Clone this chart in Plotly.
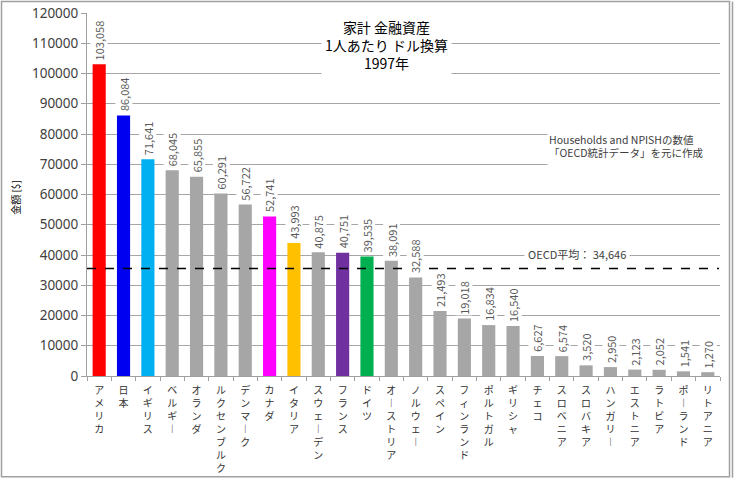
import plotly.graph_objects as go

# ---------------- data ----------------
countries = ["アメリカ", "日本", "イギリス", "ベルギー", "オランダ", "ルクセンブルク", "デンマーク",
             "カナダ", "イタリア", "スウェーデン", "フランス", "ドイツ", "オーストリア", "ノルウェー",
             "スペイン", "フィンランド", "ポルトガル", "ギリシャ", "チェコ", "スロベニア", "スロバキア",
             "ハンガリー", "エストニア", "ラトビア", "ポーランド", "リトアニア"]
values = [103058, 86084, 71641, 68045, 65855, 60291, 56722, 52741, 43993, 40875, 40751, 39535,
          38091, 32588, 21493, 19018, 16834, 16540, 6627, 6574, 3520, 2950, 2123, 2052, 1541, 1270]
bar_colors = ["#FF0000", "#0000F0", "#00B0F0", "#A6A6A6", "#A6A6A6", "#A6A6A6", "#A6A6A6",
              "#FF00FF", "#FFC000", "#A6A6A6", "#7030A0", "#00B050", "#A6A6A6", "#A6A6A6",
              "#A6A6A6", "#A6A6A6", "#A6A6A6", "#A6A6A6", "#A6A6A6", "#A6A6A6", "#A6A6A6",
              "#A6A6A6", "#A6A6A6", "#A6A6A6", "#A6A6A6", "#A6A6A6"]
y_tickvals = [0, 10000, 20000, 30000, 40000, 50000, 60000, 70000, 80000, 90000, 100000, 110000, 120000]
oecd_line_value = 35500
oecd_label = "OECD平均： 34,646"
title_text = "家計 金融資産<br>1人あたり ドル換算<br>1997年"
note_text = "Households and NPISHの数値<br>「OECD統計データ」を元に作成"
y_title = "金額 [$]"

# ---------------- layout geometry ----------------
W, H = 735, 481
L, R, T, B = 87, 15, 13, 104.5
PW, PH = W - L - R, H - T - B


def px(xp):
    return (xp - L) / PW


def py(yp):
    return (H - B - yp) / PH


FONT = "Noto Sans CJK JP, Noto Sans, sans-serif"
TICKFONT = "DejaVu Sans, Noto Sans CJK JP, sans-serif"


def vertical(s):
    return "<br>".join("︱" if c == "ー" else c for c in s)


fig = go.Figure()
fig.add_trace(go.Bar(x=countries, y=values, marker=dict(color=bar_colors, line=dict(width=0)),
                     hoverinfo="x+y"))

annotations = []
for c, v in zip(countries, values):
    annotations.append(dict(x=c, y=v, xref="x", yref="y", text=f"{v:,}",
                            textangle=-90, yanchor="bottom", xanchor="center", yshift=3,
                            showarrow=False, bgcolor="white", borderpad=0,
                            font=dict(family=FONT, size=11, color="#595959")))

annotations.append(dict(x=px(386), y=py(45), xref="paper", yref="paper", text=title_text,
                        showarrow=False, xanchor="center", yanchor="middle", bgcolor="white",
                        borderpad=3, font=dict(family=FONT, size=14, color="#000000")))
annotations.append(dict(x=px(547), y=py(146), xref="paper", yref="paper", text=note_text,
                        showarrow=False, xanchor="left", yanchor="middle", align="left",
                        bgcolor="white", width=170, height=36,
                        font=dict(family=FONT, size=10.5, color="#404040")))
annotations.append(dict(x=px(577), y=py(254), xref="paper", yref="paper", text=oecd_label,
                        showarrow=False, xanchor="center", yanchor="middle", bgcolor="white",
                        borderpad=3, font=dict(family=FONT, size=11, color="#404040")))
annotations.append(dict(x=px(16), y=py(198), xref="paper", yref="paper", text=y_title,
                        showarrow=False, xanchor="center", yanchor="middle", textangle=-90,
                        font=dict(family=FONT, size=10, color="#000000")))

shapes = [
    dict(type="line", xref="paper", yref="y", x0=0, x1=px(719), y0=oecd_line_value,
         y1=oecd_line_value, line=dict(color="black", width=1.5, dash="dash")),
    dict(type="rect", xref="paper", yref="paper", x0=px(1.5), x1=px(729.5), y0=py(477.5),
         y1=py(1.5), line=dict(color="#A0A0A0", width=1.5)),
    dict(type="line", xref="paper", yref="paper", x0=px(732.5), x1=px(732.5), y0=py(478.5),
         y1=py(1.5), line=dict(color="#A0A0A0", width=1.5)),
]

fig.update_layout(
    width=W, height=H,
    margin=dict(l=L, r=R, t=T, b=B, pad=0, autoexpand=False),
    paper_bgcolor="white", plot_bgcolor="white",
    showlegend=False, bargap=0.46,
    font=dict(family=FONT),
    annotations=annotations, shapes=shapes,
    xaxis=dict(type="category", tickmode="array", tickvals=countries,
               ticktext=[vertical(c) for c in countries], tickangle=0, automargin=False,
               ticks="outside", ticklen=4, tickcolor="#A0A0A0", tickson="boundaries",
               ticklabelstandoff=5,
               showline=True, linecolor="#A0A0A0", linewidth=1, showgrid=False,
               tickfont=dict(family=TICKFONT, size=10, color="#333333"), fixedrange=True),
    yaxis=dict(range=[0, 120000], tickmode="array", tickvals=y_tickvals, automargin=False,
               ticktext=[str(v) for v in y_tickvals], ticks="outside", ticklen=5,
               tickcolor="#A0A0A0", showline=True, linecolor="#A0A0A0", linewidth=1,
               showgrid=True, gridcolor="#A6A6A6", gridwidth=1, zeroline=False,
               tickfont=dict(family="Noto Sans, sans-serif", size=13.5, color="#404040"),
               fixedrange=True),
)

fig.write_html("out.html", config={"displayModeBar": False})
